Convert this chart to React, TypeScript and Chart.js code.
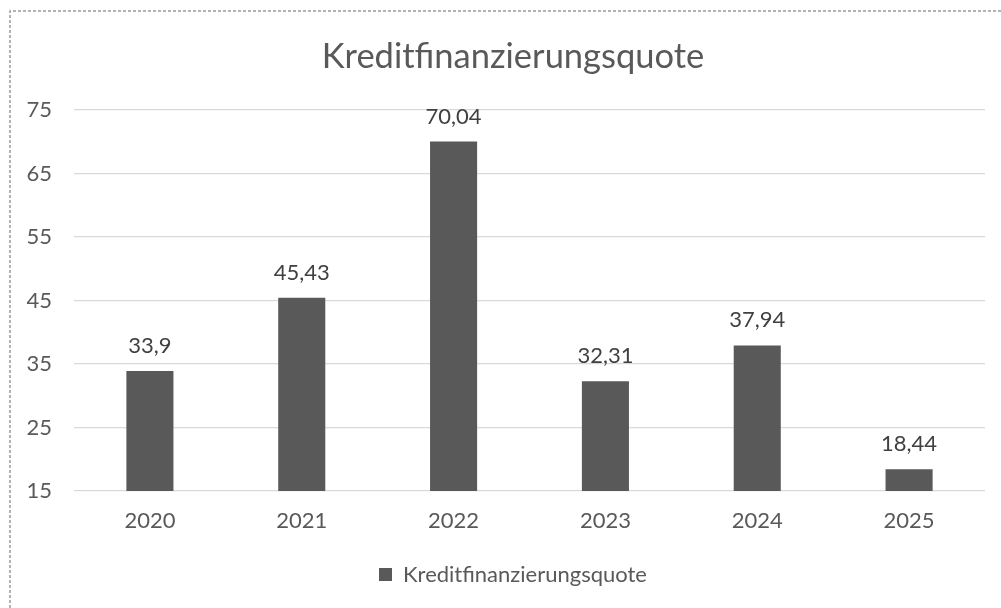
import React, { useEffect, useRef } from "react";
import { Chart, registerables } from "chart.js";

Chart.register(...registerables);

const categories = ["2020", "2021", "2022", "2023", "2024", "2025"];
const seriesName = "Kreditfinanzierungsquote";
const values = [33.9, 45.43, 70.04, 32.31, 37.94, 18.44];
const yTicks = [15, 25, 35, 45, 55, 65, 75];
const chartTitle = "Kreditfinanzierungsquote";

const FONT = "Lato";
const GRAY = "#595959";
const FS = 22;

const fmt = (v: number) => String(v).replace(".", ",");

const dataLabels = {
  id: "dataLabels",
  afterDatasetsDraw(chart: any) {
    const ctx = chart.ctx;
    const meta = chart.getDatasetMeta(0);
    ctx.save();
    ctx.font = `${FS}px ${FONT}`;
    ctx.fillStyle = "#404040";
    ctx.textAlign = "center";
    ctx.textBaseline = "alphabetic";
    meta.data.forEach((bar: any, i: number) => {
      ctx.fillText(fmt(values[i]), bar.x, bar.y - 18);
    });
    ctx.restore();
  },
};

const frame = {
  id: "frame",
  afterDraw(chart: any) {
    const ctx = chart.ctx;
    ctx.save();
    ctx.strokeStyle = "#9a9a9a";
    ctx.lineWidth = 1.5;
    ctx.setLineDash([3, 2]);
    ctx.beginPath();
    ctx.moveTo(10, 608);
    ctx.lineTo(10, 11);
    ctx.lineTo(chart.width, 11);
    ctx.stroke();
    ctx.restore();
  },
};

export default function App() {
  const ref = useRef<HTMLCanvasElement>(null);
  useEffect(() => {
    if (!ref.current) return;
    const chart = new Chart(ref.current, {
      type: "bar",
      data: {
        labels: categories,
        datasets: [
          {
            label: seriesName,
            data: values,
            backgroundColor: GRAY,
            barPercentage: 0.31,
            categoryPercentage: 1,
          },
        ],
      },
      options: {
        responsive: false,
        animation: false,
        devicePixelRatio: 1,
        layout: { padding: { left: 10, right: 0, top: 0, bottom: 12.5 } },
        plugins: {
          title: {
            display: true,
            text: chartTitle,
            color: GRAY,
            font: { family: FONT, size: 34.5, weight: "normal" },
            padding: { top: 36, bottom: 32.6 },
          },
          legend: {
            display: true,
            position: "bottom",
            labels: {
              color: GRAY,
              font: { family: FONT, size: FS },
              boxWidth: 13,
              boxHeight: 13,
              padding: 12,
            },
          },
          tooltip: { enabled: false },
        },
        scales: {
          x: {
            grid: { display: false, drawTicks: false },
            border: { display: false },
            ticks: { color: GRAY, font: { family: FONT, size: FS }, padding: 17 },
          },
          y: {
            min: yTicks[0],
            max: yTicks[yTicks.length - 1],
            afterBuildTicks: (s: any) => {
              s.ticks = yTicks.map((v) => ({ value: v }));
            },
            afterFit: (s: any) => {
              s.width = 64;
            },
            grid: { color: "#d9d9d9", lineWidth: 1.3, drawTicks: false },
            border: { display: false },
            ticks: { color: GRAY, font: { family: FONT, size: FS }, padding: 22 },
          },
          yR: {
            position: "right",
            display: true,
            grid: { display: false, drawTicks: false },
            border: { display: false },
            ticks: { display: false },
            afterFit: (s: any) => {
              s.width = 31;
            },
          },
        },
      },
      plugins: [dataLabels, frame],
    } as any);
    return () => chart.destroy();
  }, []);
  return (
    <div style={{ position: "absolute", left: 0, top: 0, width: 1001, height: 608, overflow: "hidden", background: "#fff" }}>
      <canvas ref={ref} width={1016} height={608} style={{ display: "block" }} />
    </div>
  );
}
